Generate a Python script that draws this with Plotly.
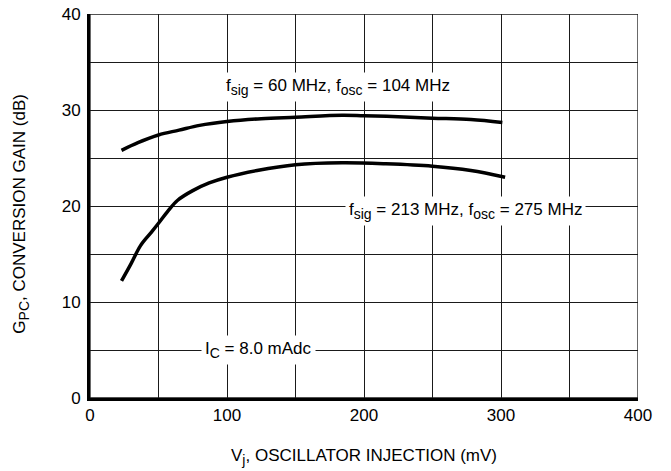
import plotly.graph_objects as go

# Data
vi_60 = [23, 35, 50, 65, 80, 100, 125, 150, 184, 200, 225, 250, 278, 301]
gpc_60 = [25.8, 26.6, 27.4, 27.9, 28.4, 28.8, 29.1, 29.25, 29.45, 29.4, 29.3, 29.15, 29.0, 28.7]

vi_213 = [23, 30, 37, 45, 50, 57, 64, 75, 87, 100, 122, 150, 184, 216, 250, 278, 303]
gpc_213 = [12.2, 14.0, 15.9, 17.3, 18.2, 19.5, 20.6, 21.6, 22.4, 23.0, 23.7, 24.3, 24.5, 24.4, 24.15, 23.7, 23.0]

x_ticks = [0, 100, 200, 300, 400]
y_ticks = [0, 10, 20, 30, 40]

FONT = "Liberation Sans Narrow, Liberation Sans, Arial, sans-serif"
GRID = "#1a1a1a"

fig = go.Figure()
fig.add_trace(go.Scatter(x=vi_60, y=gpc_60, mode="lines",
                         line=dict(color="black", width=3.5, shape="spline"),
                         showlegend=False))
fig.add_trace(go.Scatter(x=vi_213, y=gpc_213, mode="lines",
                         line=dict(color="black", width=3.5, shape="spline"),
                         showlegend=False))

fig.update_xaxes(range=[0, 400], tickvals=x_ticks, ticks="", zeroline=False,
                 showline=True, linecolor="black", linewidth=3, automargin=False,
                 showgrid=True, gridcolor=GRID, gridwidth=1.3, ticklabeloverflow="allow",
                 minor=dict(dtick=50, showgrid=True, gridcolor=GRID, gridwidth=1.3),
                 tickfont=dict(family=FONT, size=17, color="black"))
fig.update_yaxes(range=[0, 40], tickvals=y_ticks, ticks="", zeroline=False,
                 showline=True, linecolor="black", linewidth=3, automargin=False,
                 showgrid=True, gridcolor=GRID, gridwidth=1.3, ticklabelstandoff=3,
                 ticklabeloverflow="allow",
                 minor=dict(dtick=5, showgrid=True, gridcolor=GRID, gridwidth=1.3),
                 tickfont=dict(family=FONT, size=17, color="black"))

# thin top/right border
fig.add_shape(type="rect", xref="x", yref="y", x0=0, x1=400, y0=0, y1=40,
              line=dict(color=GRID, width=1.3), layer="below")

SUB = '<sub><span style="font-size:14px">{}</span></sub>'
ann_font = dict(family=FONT, size=17, color="black")
fig.add_annotation(x=181, y=32.4,
                   text="f" + SUB.format("sig") + " = 60 MHz, f" + SUB.format("osc") + " = 104 MHz",
                   showarrow=False, bgcolor="white", font=ann_font, borderpad=3)
fig.add_annotation(x=274, y=19.5,
                   text="f" + SUB.format("sig") + " = 213 MHz, f" + SUB.format("osc") + " = 275 MHz",
                   showarrow=False, bgcolor="white", font=ann_font, borderpad=3)
fig.add_annotation(x=123, y=5.0, text="I" + SUB.format("C") + " = 8.0 mAdc",
                   showarrow=False, bgcolor="white", font=ann_font, borderpad=3)

# axis titles
fig.add_annotation(xref="paper", yref="paper", x=0.5, y=-0.154, yanchor="middle",
                   text="V" + SUB.format("j") + ", OSCILLATOR INJECTION (mV)",
                   showarrow=False, font=ann_font)
fig.add_annotation(xref="paper", yref="paper", x=-0.126, y=0.48, xanchor="center",
                   textangle=-90,
                   text="G" + SUB.format("PC") + ", CONVERSION GAIN (dB)",
                   showarrow=False, font=ann_font)

fig.update_layout(width=671, height=471, margin=dict(l=90, r=33, t=14, b=73),
                  plot_bgcolor="white", paper_bgcolor="white",
                  font=dict(family=FONT, color="black"))

fig.write_html("out.html", config={"displayModeBar": False},
               post_script="document.body.style.margin='0px';document.body.style.overflow='hidden';")
